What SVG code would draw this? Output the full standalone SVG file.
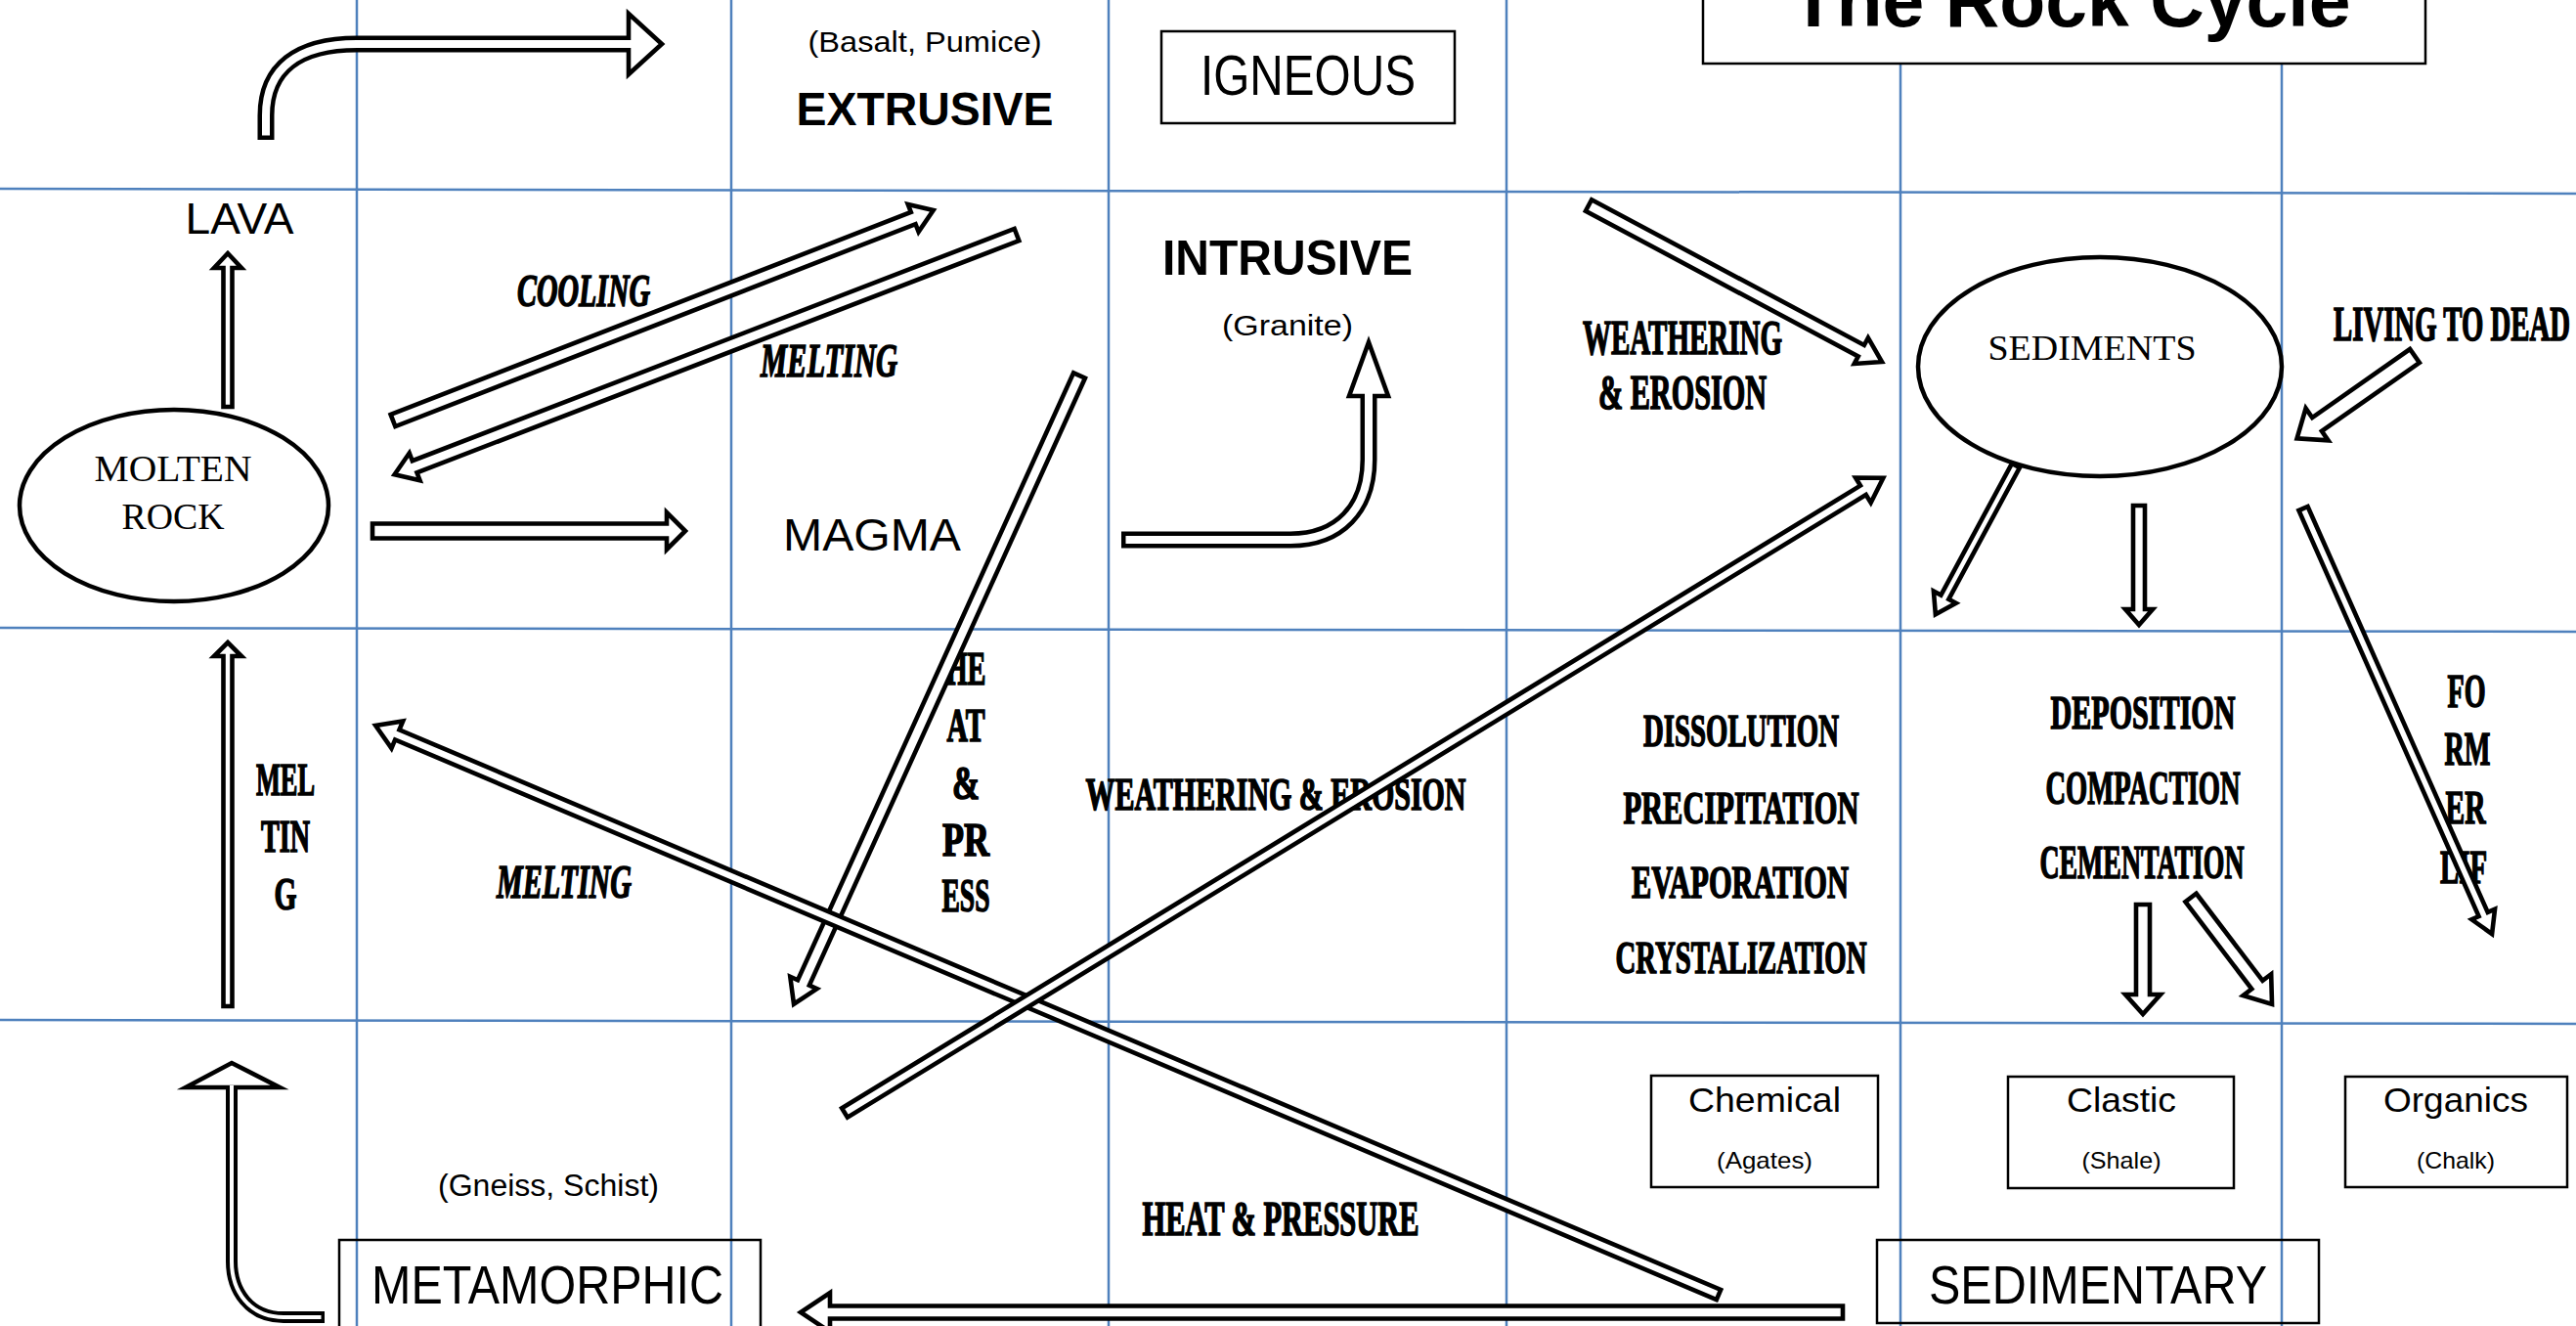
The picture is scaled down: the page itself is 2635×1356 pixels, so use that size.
<svg xmlns="http://www.w3.org/2000/svg" width="2635" height="1356" viewBox="0 0 2635 1356">
<style>
.grid{stroke:#4f81bd;stroke-width:2.5;fill:none}
.box{fill:none;stroke:#000;stroke-width:2.5}
.ell{fill:#fff;stroke:#000;stroke-width:4.5}
.arr{fill:#fff;stroke:#000;stroke-width:4.6;stroke-linejoin:miter;stroke-miterlimit:10}
.sb{fill:none;stroke:#000;stroke-linecap:butt}
.sw{fill:none;stroke:#fff;stroke-linecap:butt}
text{text-anchor:middle;fill:#000}
.sans{font-family:"Liberation Sans",Arial,sans-serif}
.bold{font-weight:bold}
.cond{font-family:"Liberation Serif","Times New Roman",serif;font-weight:bold;stroke:#000;stroke-width:1.6}
.serif{font-family:"Liberation Serif","Times New Roman",serif}
.it{font-style:italic}
</style>
<rect width="2635" height="1356" fill="#fff"/>
<g id="grid">
<line class="grid" x1="0" y1="193" x2="2635" y2="198"/>
<line class="grid" x1="0" y1="642" x2="2635" y2="646"/>
<line class="grid" x1="0" y1="1043" x2="2635" y2="1047"/>
<line class="grid" x1="365" y1="0" x2="365" y2="1356"/>
<line class="grid" x1="748" y1="0" x2="748" y2="1356"/>
<line class="grid" x1="1134" y1="0" x2="1134" y2="1356"/>
<line class="grid" x1="1541" y1="0" x2="1541" y2="1356"/>
<line class="grid" x1="1944" y1="60" x2="1944" y2="1356"/>
<line class="grid" x1="2334" y1="60" x2="2334" y2="1356"/>
</g>
<g id="title">
<rect x="1742" y="-5" width="739" height="70" fill="#fff" stroke="#000" stroke-width="2.5"/>
<text class="sans bold" x="2118" y="27" font-size="78" textLength="573" lengthAdjust="spacingAndGlyphs">The Rock Cycle</text>
</g>
<g id="igneous">
<rect class="box" x="1188" y="32" width="300" height="94"/>
<text class="sans" x="1338" y="97" font-size="58" textLength="220" lengthAdjust="spacingAndGlyphs">IGNEOUS</text>
</g>
<g id="extrusive">
<text class="sans" x="946" y="53" font-size="30" textLength="239" lengthAdjust="spacingAndGlyphs">(Basalt, Pumice)</text>
<text class="sans bold" x="946" y="128" font-size="49" textLength="263" lengthAdjust="spacingAndGlyphs">EXTRUSIVE</text>
</g>
<g id="lava"><text class="sans" x="245" y="239" font-size="45" textLength="111" lengthAdjust="spacingAndGlyphs">LAVA</text></g>
<g id="intrusive">
<text class="sans bold" x="1317" y="281" font-size="50" textLength="256" lengthAdjust="spacingAndGlyphs">INTRUSIVE</text>
<text class="sans" x="1317" y="343" font-size="29" textLength="134" lengthAdjust="spacingAndGlyphs">(Granite)</text>
</g>
<g id="molten-rock">
<ellipse class="ell" cx="178" cy="517" rx="158" ry="98"/>
<text class="serif" x="177" y="492" font-size="37" textLength="161" lengthAdjust="spacingAndGlyphs">MOLTEN</text>
<text class="serif" x="177" y="541" font-size="37" textLength="105" lengthAdjust="spacingAndGlyphs">ROCK</text>
</g>
<g id="magma"><text class="sans" x="892" y="563" font-size="46" textLength="182" lengthAdjust="spacingAndGlyphs">MAGMA</text></g>
<g id="sediments">
<ellipse class="ell" cx="2148" cy="375" rx="186" ry="112"/>
<text class="serif" x="2140" y="368" font-size="35" textLength="213" lengthAdjust="spacingAndGlyphs">SEDIMENTS</text>
</g>
<g id="metamorphic">
<rect class="box" x="347" y="1268" width="431" height="100"/>
<text class="sans" x="560" y="1333" font-size="56" textLength="360" lengthAdjust="spacingAndGlyphs">METAMORPHIC</text>
<text class="sans" x="561" y="1223" font-size="31" textLength="226" lengthAdjust="spacingAndGlyphs">(Gneiss, Schist)</text>
</g>
<g id="sedimentary">
<rect class="box" x="1920" y="1268" width="452" height="85"/>
<text class="sans" x="2146" y="1333" font-size="56" textLength="346" lengthAdjust="spacingAndGlyphs">SEDIMENTARY</text>
</g>
<g id="chemical">
<rect class="box" x="1689" y="1100" width="232" height="114"/>
<text class="sans" x="1805" y="1137" font-size="35" textLength="156" lengthAdjust="spacingAndGlyphs">Chemical</text>
<text class="sans" x="1805" y="1195" font-size="24" textLength="98" lengthAdjust="spacingAndGlyphs">(Agates)</text>
</g>
<g id="clastic">
<rect class="box" x="2054" y="1101" width="231" height="114"/>
<text class="sans" x="2170" y="1137" font-size="35" textLength="112" lengthAdjust="spacingAndGlyphs">Clastic</text>
<text class="sans" x="2170" y="1195" font-size="24" textLength="81" lengthAdjust="spacingAndGlyphs">(Shale)</text>
</g>
<g id="organics">
<rect class="box" x="2399" y="1101" width="227" height="113"/>
<text class="sans" x="2512" y="1137" font-size="35" textLength="148" lengthAdjust="spacingAndGlyphs">Organics</text>
<text class="sans" x="2512" y="1195" font-size="24" textLength="80" lengthAdjust="spacingAndGlyphs">(Chalk)</text>
</g>
<g id="labels">
<text class="cond it" x="597" y="313" font-size="47" textLength="136" lengthAdjust="spacingAndGlyphs">COOLING</text>
<text class="cond it" x="848" y="385" font-size="48" textLength="140" lengthAdjust="spacingAndGlyphs">MELTING</text>
<text class="cond it" x="577" y="918" font-size="48" textLength="138" lengthAdjust="spacingAndGlyphs">MELTING</text>
<text class="cond" x="1721" y="362" font-size="50" textLength="204" lengthAdjust="spacingAndGlyphs">WEATHERING</text>
<text class="cond" x="1721" y="418" font-size="50" textLength="172" lengthAdjust="spacingAndGlyphs">&amp; EROSION</text>
<text class="cond" x="2508" y="348" font-size="50" textLength="242" lengthAdjust="spacingAndGlyphs">LIVING TO DEAD</text>
<text class="cond" x="988" y="700" font-size="48" textLength="41" lengthAdjust="spacingAndGlyphs">HE</text>
<text class="cond" x="988" y="758" font-size="48" textLength="39" lengthAdjust="spacingAndGlyphs">AT</text>
<text class="cond" x="988" y="817" font-size="48" textLength="28" lengthAdjust="spacingAndGlyphs">&amp;</text>
<text class="cond" x="988" y="875" font-size="48" textLength="48" lengthAdjust="spacingAndGlyphs">PR</text>
<text class="cond" x="988" y="932" font-size="48" textLength="49" lengthAdjust="spacingAndGlyphs">ESS</text>
<text class="cond" x="1305" y="828" font-size="47" textLength="389" lengthAdjust="spacingAndGlyphs">WEATHERING &amp; EROSION</text>
<text class="cond" x="1781" y="763" font-size="47" textLength="200" lengthAdjust="spacingAndGlyphs">DISSOLUTION</text>
<text class="cond" x="1781" y="842" font-size="47" textLength="241" lengthAdjust="spacingAndGlyphs">PRECIPITATION</text>
<text class="cond" x="1780" y="918" font-size="47" textLength="222" lengthAdjust="spacingAndGlyphs">EVAPORATION</text>
<text class="cond" x="1781" y="995" font-size="47" textLength="257" lengthAdjust="spacingAndGlyphs">CRYSTALIZATION</text>
<text class="cond" x="2192" y="745" font-size="48" textLength="189" lengthAdjust="spacingAndGlyphs">DEPOSITION</text>
<text class="cond" x="2192" y="822" font-size="48" textLength="199" lengthAdjust="spacingAndGlyphs">COMPACTION</text>
<text class="cond" x="2191" y="898" font-size="48" textLength="209" lengthAdjust="spacingAndGlyphs">CEMENTATION</text>
<text class="cond" x="2523" y="723" font-size="48" textLength="39" lengthAdjust="spacingAndGlyphs">FO</text>
<text class="cond" x="2524" y="782" font-size="48" textLength="47" lengthAdjust="spacingAndGlyphs">RM</text>
<text class="cond" x="2522" y="842" font-size="48" textLength="41" lengthAdjust="spacingAndGlyphs">ER</text>
<text class="cond" x="2520" y="903" font-size="48" textLength="48" lengthAdjust="spacingAndGlyphs">LIF</text>
<text class="cond" x="292" y="813" font-size="47" textLength="60" lengthAdjust="spacingAndGlyphs">MEL</text>
<text class="cond" x="292" y="871" font-size="47" textLength="50" lengthAdjust="spacingAndGlyphs">TIN</text>
<text class="cond" x="292" y="930" font-size="47" textLength="23" lengthAdjust="spacingAndGlyphs">G</text>
<text class="cond" x="1310" y="1263" font-size="50" textLength="283" lengthAdjust="spacingAndGlyphs">HEAT &amp; PRESSURE</text>
</g>
<g id="connectors">
<path class="sb" stroke-width="17" d="M272 143 L272 118 C272 70 305 45 365 45 L650 45"/>
<polygon class="arr" points="643,14 677,45 643,76"/>
<path class="sw" stroke-width="8" d="M272 138.5 L272 118 C272 70 305 45 365 45 L648 45"/>
<path class="sb" stroke-width="17" d="M1147 552 L1320 552 C1370 552 1400 520 1400 470 L1400 400"/>
<polygon class="arr" points="1380,405 1400,350 1420,405"/>
<path class="sw" stroke-width="8" d="M1151.5 552 L1320 552 C1370 552 1400 520 1400 470 L1400 402"/>
<path class="sb" stroke-width="12" d="M332 1347 L290 1347 C255 1347 237 1320 237 1290 L237 1108"/>
<polygon class="arr" points="190,1112 237,1087 286,1112"/>
<path class="sw" stroke-width="4" d="M328.5 1347 L290 1347 C255 1347 237 1320 237 1290 L237 1110"/>
<polygon class="arr" transform="translate(233,416) rotate(-90)" points="0,-4.5 142,-4.5 142,-14 157,0 142,14 142,4.5 0,4.5"/>
<polygon class="arr" transform="translate(233,1029) rotate(-90)" points="0,-4.5 358,-4.5 358,-14 372,0 358,14 358,4.5 0,4.5"/>
<polygon class="arr" transform="translate(381,543)" points="0,-7.5 301,-7.5 301,-19 320,0 301,19 301,7.5 0,7.5"/>
<polygon class="arr" transform="translate(402,430) rotate(-21.25)" points="0,-6.5 571,-6.5 571,-15 593,0 571,15 571,6.5 0,6.5"/>
<polygon class="arr" transform="translate(1040,240) rotate(158.93)" points="0,-6.5 660,-6.5 660,-15 682,0 660,15 660,6.5 0,6.5"/>
<polygon class="arr" transform="translate(1104,384) rotate(114.43)" points="0,-6.5 682,-6.5 682,-15 706,0 682,15 682,6.5 0,6.5"/>
<polygon class="arr" transform="translate(1625,210) rotate(28.07)" points="0,-6.5 316,-6.5 316,-15 340,0 316,15 316,6.5 0,6.5"/>
<polygon class="arr" transform="translate(2470,364) rotate(145)" points="0,-8.5 122,-8.5 122,-20 147,0 122,20 122,8.5 0,8.5"/>
<polygon class="arr" transform="translate(2062,476) rotate(118.35)" points="0,-4.5 153,-4.5 153,-13 173,0 153,13 153,4.5 0,4.5"/>
<polygon class="arr" transform="translate(2188,517) rotate(90)" points="0,-6 106,-6 106,-14 122,0 106,14 106,6 0,6"/>
<polygon class="arr" transform="translate(2356,520) rotate(66.07)" points="0,-5 454,-5 454,-13 476,0 454,13 454,5 0,5"/>
<polygon class="arr" transform="translate(2192,925) rotate(90)" points="0,-7 92,-7 92,-18 112,0 92,18 92,7 0,7"/>
<polygon class="arr" transform="translate(2241,918) rotate(52.7)" points="0,-7 112,-7 112,-18 137,0 112,18 112,7 0,7"/>
<polygon class="arr" transform="translate(1885,1342) rotate(180)" points="0,-6.5 1036,-6.5 1036,-20 1066,0 1036,20 1036,6.5 0,6.5"/>
<polygon class="arr" transform="translate(1758,1324) rotate(-157.04)" points="0,-5.5 1468,-5.5 1468,-15 1492,0 1468,15 1468,5.5 0,5.5"/>
<polygon class="arr" transform="translate(864,1138) rotate(-31.43)" points="0,-5.5 1221,-5.5 1221,-15 1245,0 1221,15 1221,5.5 0,5.5"/>
</g>
</svg>
